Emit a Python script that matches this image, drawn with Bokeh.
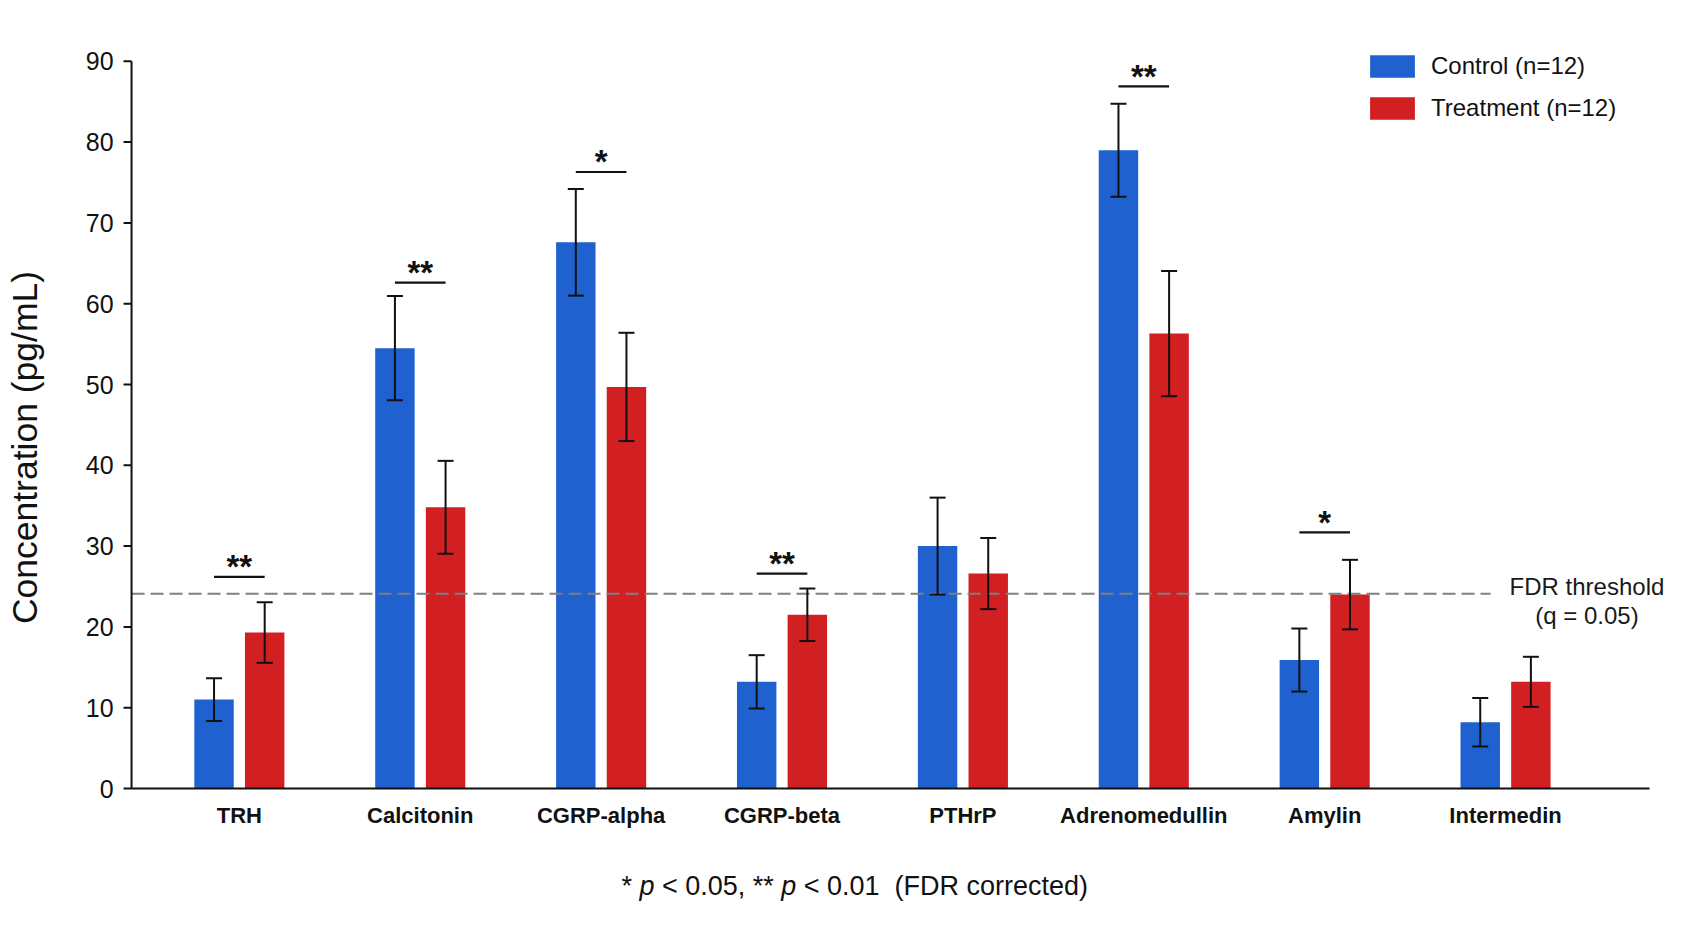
import math
from bokeh.plotting import figure
from bokeh.layouts import column
from bokeh.models import (ColumnDataSource, Range1d, Whisker, TeeHead,
                          Legend, LegendItem, Label)
from bokeh.core.properties import value
from bokeh.embed import file_html
from bokeh.resources import INLINE

# ---- data -------------------------------------------------------------
categories = ["TRH", "Calcitonin", "CGRP-alpha", "CGRP-beta", "PTHrP",
              "Adrenomedullin", "Amylin", "Intermedin"]
control_mean = [11.0, 54.5, 67.6, 13.2, 30.0, 79.0, 15.9, 8.2]
control_sem = [2.65, 6.45, 6.6, 3.3, 6.0, 5.75, 3.9, 3.0]
treatment_mean = [19.3, 34.8, 49.7, 21.5, 26.6, 56.3, 24.0, 13.2]
treatment_sem = [3.75, 5.75, 6.7, 3.25, 4.4, 7.75, 4.3, 3.1]
sig_labels = ["**", "**", "*", "**", "", "**", "*", ""]
sig_levels = [26.2, 62.6, 76.3, 26.6, None, 86.9, 31.7, None]
fdr_threshold = 24.1
series_names = ["Control (n=12)", "Treatment (n=12)"]
y_ticks = list(range(0, 100, 10))

# ---- style ------------------------------------------------------------
BLUE = "#1f62cf"
RED = "#d21f22"
INK = "#111111"
FONT = "Liberation Sans"
OFFSET = 0.14
BAR_W = 0.218
X_LO, X_HI = -0.596, 7.796     # extent of the drawn axes in x
PX_X = 180.88                  # px per category step
PX_Y = 8.08                    # px per concentration unit
TICK = 8 / PX_X                # 8 px tick length, in data units

# the frame covers the whole canvas; axes are drawn as glyphs inside it
p = figure(width=1693, height=860, output_backend="svg", toolbar_location=None,
           x_range=Range1d(-1.3205, 8.039),
           y_range=Range1d(-72 / PX_Y, 788 / PX_Y),
           min_border=0, min_border_left=0, min_border_right=0,
           min_border_top=0, min_border_bottom=0,
           x_axis_type=None, y_axis_type=None)
p.outline_line_color = None
p.background_fill_color = "white"
p.border_fill_color = "white"

idx = list(range(len(categories)))
ctrl = ColumnDataSource(dict(
    x=[i - OFFSET for i in idx], top=control_mean,
    upper=[m + s for m, s in zip(control_mean, control_sem)],
    lower=[m - s for m, s in zip(control_mean, control_sem)]))
trt = ColumnDataSource(dict(
    x=[i + OFFSET for i in idx], top=treatment_mean,
    upper=[m + s for m, s in zip(treatment_mean, treatment_sem)],
    lower=[m - s for m, s in zip(treatment_mean, treatment_sem)]))

r_ctrl = p.vbar(x="x", top="top", bottom=0, width=BAR_W, source=ctrl,
                fill_color=BLUE, line_color=None)
r_trt = p.vbar(x="x", top="top", bottom=0, width=BAR_W, source=trt,
               fill_color=RED, line_color=None)

for src in (ctrl, trt):
    w = Whisker(source=src, base="x", upper="upper", lower="lower",
                line_color=INK, line_width=2, level="overlay",
                upper_head=TeeHead(size=16, line_width=2, line_color=INK),
                lower_head=TeeHead(size=16, line_width=2, line_color=INK))
    p.add_layout(w)

# FDR threshold line and its label
p.segment(x0=[X_LO], x1=[6.917], y0=[fdr_threshold], y1=[fdr_threshold],
          line_color="#7f7f7f", line_width=2, line_dash="13 6")
p.add_layout(Label(x=7.45, y=24.96, text="FDR threshold", text_align="center",
                   text_baseline="middle", text_font=FONT, text_font_size="24px",
                   text_color="#1a1a1a"))
p.add_layout(Label(x=7.45, y=21.37, text="(q = 0.05)", text_align="center",
                   text_baseline="middle", text_font=FONT, text_font_size="24px",
                   text_color="#1a1a1a"))

# significance brackets
sx0, sx1, sy, st = [], [], [], []
for i, (lab, lev) in enumerate(zip(sig_labels, sig_levels)):
    if lab:
        sx0.append(i - OFFSET)
        sx1.append(i + OFFSET)
        sy.append(lev)
        st.append(lab)
p.segment(x0=sx0, x1=sx1, y0=sy, y1=sy, line_color=INK, line_width=2.2)
p.text(x=[(a + b) / 2 for a, b in zip(sx0, sx1)], y=[v + 1.25 for v in sy],
       text=st, text_font=value(FONT), text_font_style="bold",
       text_font_size="33px", text_align="center", text_baseline="middle",
       text_color=INK)

# legend (the legend swatch is drawn at 80% of the glyph box)
legend = Legend(items=[LegendItem(label=series_names[0], renderers=[r_ctrl]),
                       LegendItem(label=series_names[1], renderers=[r_trt])],
                location=(1364, 738), padding=0, margin=0, spacing=14,
                glyph_width=56, glyph_height=28, label_standoff=11,
                label_text_font=FONT, label_text_font_size="24px",
                label_text_color=INK, border_line_color=None,
                background_fill_alpha=0)
p.add_layout(legend, "center")

# y axis: line, outward ticks, tick labels and title
p.segment(x0=[X_LO], x1=[X_LO], y0=[0], y1=[max(y_ticks)],
          line_color=INK, line_width=2)
p.segment(x0=[X_LO - TICK] * len(y_ticks), x1=[X_LO] * len(y_ticks),
          y0=y_ticks, y1=y_ticks, line_color=INK, line_width=2)
p.text(x=[X_LO] * len(y_ticks), y=y_ticks, text=[str(t) for t in y_ticks],
       x_offset=-18, text_align="right", text_baseline="middle",
       text_font=value(FONT), text_font_size="25px", text_color=INK)
p.add_layout(Label(x=-1.1823, y=42.2, text="Concentration (pg/mL)",
                   angle=math.pi / 2, text_align="center", text_baseline="middle",
                   text_font=FONT, text_font_size="35.5px", text_color=INK))

# x axis: baseline and category names
p.segment(x0=[X_LO], x1=[X_HI], y0=[0], y1=[0], line_color=INK, line_width=2)
p.text(x=idx, y=[-27 / PX_Y] * len(idx), text=categories,
       text_align="center", text_baseline="middle",
       text_font=value(FONT), text_font_style="bold", text_font_size="22px",
       text_color=INK)

# footnote strip (x in page pixels), in pieces so the p's can be italic
foot = figure(width=1693, height=69, output_backend="svg", toolbar_location=None,
              x_range=Range1d(0, 1693), y_range=Range1d(69, 0),
              min_border=0, min_border_left=0, min_border_right=0,
              min_border_top=0, min_border_bottom=0,
              x_axis_type=None, y_axis_type=None)
foot.outline_line_color = None
foot.background_fill_color = "white"
foot.border_fill_color = "white"
note_plain = ["*", "< 0.05, **", "< 0.01\u00a0 (FDR corrected)"]
note_plain_x = [621, 661.5, 803.2]
note_italic = ["p", "p"]
note_italic_x = [639, 780.7]
foot.text(x=note_plain_x, y=[25.6] * 3, text=note_plain,
          text_font=value(FONT), text_font_size="27px", text_color=INK,
          text_align="left", text_baseline="middle")
foot.text(x=note_italic_x, y=[25.6] * 2, text=note_italic,
          text_font=value(FONT), text_font_style="italic",
          text_font_size="27px", text_color=INK,
          text_align="left", text_baseline="middle")

open("out.html", "w").write(file_html(column(p, foot), INLINE))
